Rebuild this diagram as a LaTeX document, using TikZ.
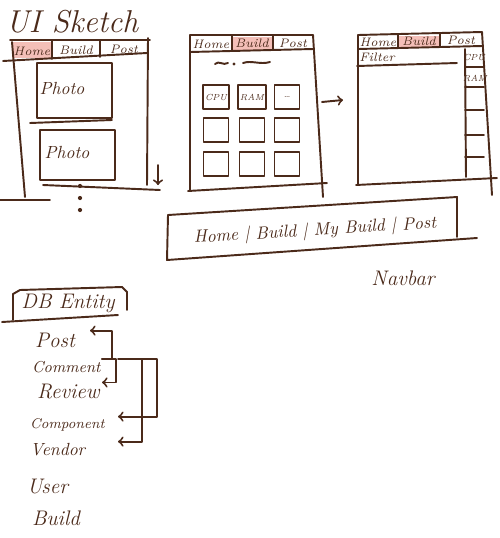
\documentclass[tikz,border=0pt]{standalone}
\usetikzlibrary{positioning}
\definecolor{ink}{HTML}{4B2A1A}
\definecolor{tabpink}{HTML}{F4BFB8}
\tikzset{
  pen/.style={draw=ink, line width=1.1pt, line cap=round, line join=round},
  hand/.style={text=ink, font=\itshape, inner sep=1pt},
  tablabel/.style={hand, font=\itshape\scriptsize},
  cell/.style={pen, hand, font=\itshape\tiny, minimum width=0.5cm, minimum height=0.48cm},
  entity/.style={hand, anchor=west},
}
\begin{document}
\begin{tikzpicture}[x=0.02cm,y=-0.02cm]
  \useasboundingbox (0,0) rectangle (500,538);
  \node[hand, font=\itshape\fontsize{18}{22}\selectfont] (title) at (72,22) {UI Sketch};
  % home page
  \begin{scope}[shift={(10,40)}]
    \fill[tabpink] (2,2) rectangle (42,18);
    \draw[pen] (0,0) -- (140,0);
    \draw[pen] (-7,21) -- (137,13);
    \draw[pen] (42,0) -- (42,19);
    \draw[pen] (90,0) -- (90,17);
    \draw[pen] (2,2) -- (15,157);
    \draw[pen] (138,-2) -- (137,145);
    \draw[pen] (33,145) -- (150,150);
    \draw[pen] (-10,160) -- (40,160);
    \node[tablabel] (homeA) at (22,11) {Home};
    \node[tablabel] (buildA) at (66,10) {Build};
    \node[tablabel] (postA) at (114,9) {Post};
    \draw[pen] (27,23) rectangle (102,78);
    \draw[pen] (20,83) -- (102,80);
    \draw[pen] (30,90) rectangle (105,140);
    \node[hand] (photoA) at (52,48) {Photo};
    \node[hand] (photoB) at (57,112) {Photo};
    \foreach \y in {146,158,170}
      \fill[ink] (70,\y) circle (1.2pt);
    \draw[pen,->] (148,125) -- (148,145);
  \end{scope}
  % build page
  \begin{scope}[shift={(190,35)}]
    \fill[tabpink] (42,2) rectangle (83,15);
    \draw[pen] (0,0) -- (123,0);
    \draw[pen] (0,17) -- (123,14);
    \draw[pen] (42,0) -- (42,16);
    \draw[pen] (83,0) -- (83,15);
    \draw[pen] (0,0) -- (0,155);
    \draw[pen] (123,0) -- (133,162);
    \draw[pen] (-2,156) -- (137,148);
    \node[tablabel] (homeB) at (21,9) {Home};
    \node[tablabel] (buildB) at (62,8) {Build};
    \node[tablabel] (postB) at (103,8) {Post};
    \draw[pen] (25,29) .. controls (29,25) and (33,31) .. (38,28);
    \fill[ink] (44,29) circle (0.9pt);
    \draw[pen] (53,28) .. controls (62,25) and (70,30) .. (80,27);
    \node[cell] (cpu) at (26,62) {CPU};
    \node[cell] (ram) at (62,62) {RAM};
    \node[cell] (more) at (97,62) {\dots};
    \node[cell] (slotD) at (26,95) {};
    \node[cell] (slotE) at (62,95) {};
    \node[cell] (slotF) at (97,95) {};
    \node[cell] (slotG) at (26,129) {};
    \node[cell] (slotH) at (62,129) {};
    \node[cell] (slotI) at (97,129) {};
  \end{scope}
  \coordinate (flowa) at (322,102);
  \coordinate (flowb) at (343,100);
  \draw[pen,->] (flowa) -- (flowb);
  % list page
  \begin{scope}[shift={(358,35)}]
    \fill[tabpink] (40,1) rectangle (82,12);
    \draw[pen] (0,0) -- (124,-3);
    \draw[pen] (0,14) -- (124,11);
    \draw[pen] (40,0) -- (40,13);
    \draw[pen] (82,-1) -- (82,12);
    \draw[pen] (0,0) -- (0,150);
    \draw[pen] (124,-3) -- (134,160);
    \draw[pen] (-2,150) -- (139,143);
    \node[tablabel] (homeC) at (20,7) {Home};
    \node[tablabel] (buildC) at (61,6) {Build};
    \node[tablabel] (postC) at (103,5) {Post};
    \node[tablabel] (filter) at (19,22) {Filter};
    \draw[pen] (-1,31) -- (99,28);
    \draw[pen] (107,14) -- (108,142);
    \foreach \y in {32,52,75,100,122}
      \draw[pen] (107,\y) -- (126,\y);
    \node[hand, font=\itshape\tiny] (cpuC) at (116,22) {CPU};
    \node[hand, font=\itshape\tiny] (ramC) at (117,43) {RAM};
  \end{scope}
  % navbar
  \draw[pen] (168,215) -- (457,197) -- (457,237);
  \draw[pen] (168,215) -- (167,260) -- (477,238);
  \node[hand, font=\itshape\normalsize, rotate=3.5] (navtext) at (315,231) {Home | Build | My Build | Post};
  \node[hand, font=\itshape\large] (navbar) at (403,278) {Navbar};
  % db entities
  \node[hand, font=\itshape\large] (dbentity) at (68,303) {DB Entity};
  \draw[pen] (13,320) -- (13,294) -- (20,290) -- (122,287) -- (127,292) -- (127,310);
  \draw[pen] (2,322) -- (118,315);
  \node[entity, font=\itshape\large] (post) at (33,340) {Post};
  \node[entity, font=\itshape\small] (comment) at (30,367) {Comment};
  \node[entity, font=\itshape\large] (review) at (35,392) {Review};
  \node[entity, font=\itshape\footnotesize] (component) at (28,425) {Component};
  \node[entity, font=\itshape\normalsize] (vendor) at (28,450) {Vendor};
  \node[entity, font=\itshape\large] (user) at (25,487) {User};
  \node[entity, font=\itshape\large] (build) at (30,518) {Build};
  \coordinate (tipA) at (90,0);
  \coordinate (tipB) at (102,0);
  \coordinate (tipC) at (118,0);
  \coordinate (barA) at (112,0);
  \coordinate (barB) at (116,0);
  \coordinate (barC) at (142,0);
  \coordinate (barD) at (157,0);
  \draw[pen,->] (comment.north -| tipB) -- (comment.north -| barA) |- (post.north -| tipA);
  \draw[pen,->] (comment.north -| tipB) -- (comment.north -| barB) |- (review.north -| tipB);
  \draw[pen,->] (comment.north -| tipC) -- (comment.north -| barC) |- (vendor.north -| tipC);
  \draw[pen,->] (comment.north -| barC) -- (comment.north -| barD) |- (component.north -| tipC);
\end{tikzpicture}
\end{document}
